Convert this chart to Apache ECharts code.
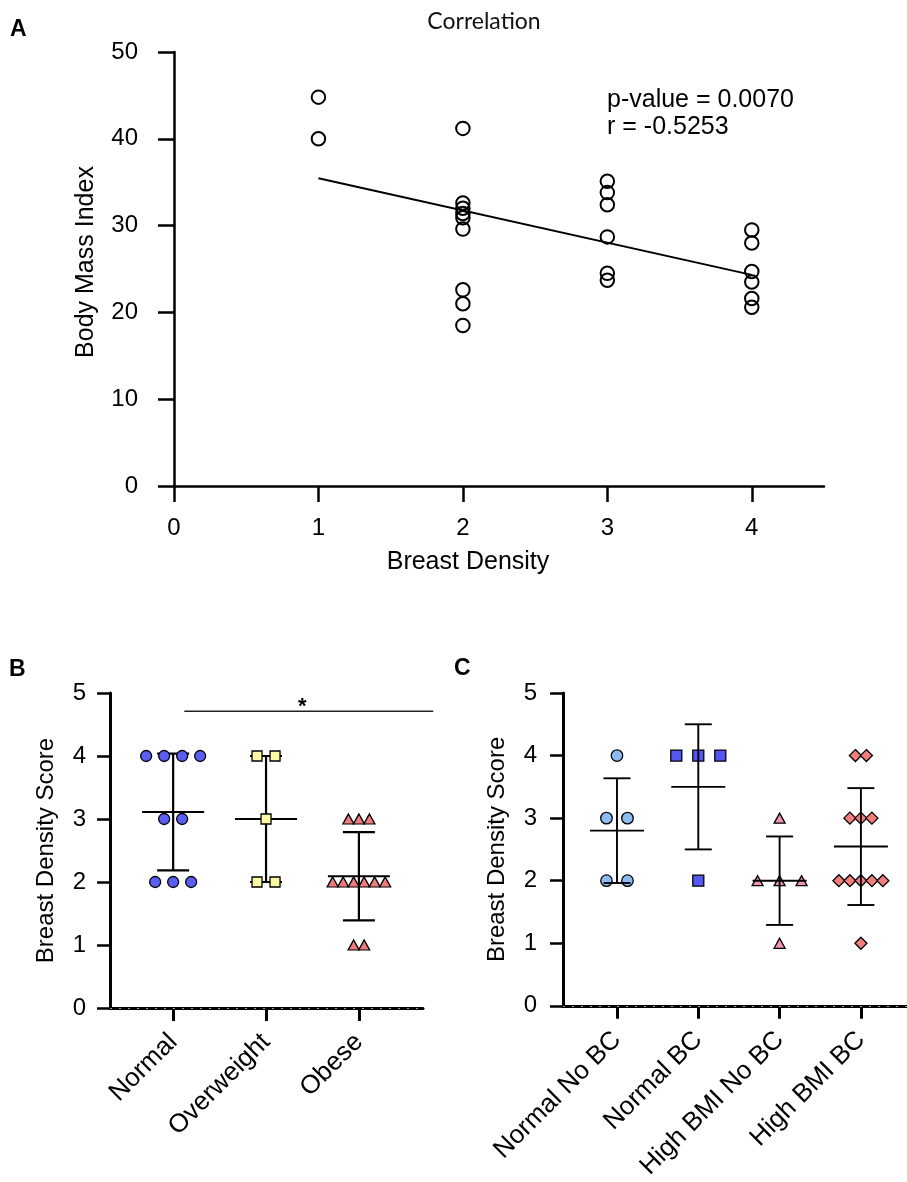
<!DOCTYPE html>
<html>
<head>
<meta charset="utf-8">
<script src="https://cdn.jsdelivr.net/npm/echarts@6/dist/echarts.min.js"></script>
<style>
html, body { margin: 0; padding: 0; background: #fff; }
#chart { width: 907px; height: 1182px; }
</style>
</head>
<body>
<div id="chart"></div>
<script>
// A: correlation BMI vs breast density
const densityA = [1, 1, 2, 2, 2, 2, 2, 2, 2, 2, 2, 3, 3, 3, 3, 3, 3, 4, 4, 4, 4, 4, 4];
const bmiA = [44.8, 40.0, 41.2, 32.6, 32.0, 31.4, 30.9, 29.6, 22.6, 21.0, 18.5,
  35.1, 33.8, 32.4, 28.7, 24.5, 23.7, 29.5, 28.0, 24.7, 23.5, 21.6, 20.6];
const statsA = ['p-value = 0.0070', 'r = -0.5253'];
const ticksA = [0, 1, 2, 3, 4];

// B: density score by BMI class
const groupsB = ['Normal', 'Overweight', 'Obese'];
const normalB = [4, 4, 4, 4, 3, 3, 2, 2, 2];
const overweightB = [4, 4, 3, 2, 2];
const obeseB = [3, 3, 3, 2, 2, 2, 2, 2, 2, 1, 1];
const sigB = [[1.12, 3.8, 4.71, 2.39]]; // from, to, height, star x

// C: density score by BMI and cancer status
const groupsC = ['Normal No BC', 'Normal BC', 'High BMI No BC', 'High BMI BC'];
const normalNoBC = [4, 3, 3, 2, 2];
const normalBC = [4, 4, 4, 2];
const highNoBC = [3, 2, 2, 2, 1];
const highBC = [4, 4, 3, 3, 3, 2, 2, 2, 2, 2, 1];

const font = 'Liberation Sans, Arial, sans-serif';

// grid geometry (px)
const gB = { left: 110, top: 693, width: 313, height: 315, min: 0.32, max: 3.69 };
const gC = { left: 563, top: 693, width: 344, height: 315, min: 0.336, max: 4.567 };
const unitB = gB.width / (gB.max - gB.min);
const unitC = gC.width / (gC.max - gC.min);

// linear fit for panel A
function fit(xs, ys) {
  const n = xs.length;
  const mx = xs.reduce((a, b) => a + b, 0) / n;
  const my = ys.reduce((a, b) => a + b, 0) / n;
  let sxy = 0, sxx = 0;
  for (let i = 0; i < n; i++) {
    sxy += (xs[i] - mx) * (ys[i] - my);
    sxx += (xs[i] - mx) * (xs[i] - mx);
  }
  const k = sxy / sxx;
  return x => my + k * (x - mx);
}
const line = fit(densityA, bmiA);
const xMin = Math.min.apply(null, densityA), xMax = Math.max.apply(null, densityA);

// spread equal values side by side around the group position
function spread(vals, g, stepPx, unitPx) {
  const counts = {}, seen = {};
  vals.forEach(v => counts[v] = (counts[v] || 0) + 1);
  return vals.map(v => {
    const k = seen[v] = (seen[v] || 0) + 1;
    return [g + (k - 1 - (counts[v] - 1) / 2) * stepPx / unitPx, v];
  });
}

function meanSd(vals) {
  const n = vals.length;
  const m = vals.reduce((a, b) => a + b, 0) / n;
  const ss = vals.reduce((a, v) => a + (v - m) * (v - m), 0);
  return [m, Math.sqrt(ss / (n - 1))];
}

function errBars(idx, groups, meanHalf, capHalf, z, lw) {
  return {
    type: 'custom', xAxisIndex: idx, yAxisIndex: idx, z: z, clip: false, silent: true,
    data: groups.map((vals, i) => [i + 1].concat(meanSd(vals))),
    renderItem: function (params, api) {
      const x = api.value(0), m = api.value(1), sd = api.value(2);
      const c = api.coord([x, m]), t = api.coord([x, m + sd]), b = api.coord([x, m - sd]);
      const st = { stroke: '#000', lineWidth: lw };
      return {
        type: 'group', children: [
          { type: 'line', shape: { x1: c[0], y1: t[1], x2: c[0], y2: b[1] }, style: st },
          { type: 'line', shape: { x1: c[0] - capHalf, y1: t[1], x2: c[0] + capHalf, y2: t[1] }, style: st },
          { type: 'line', shape: { x1: c[0] - capHalf, y1: b[1], x2: c[0] + capHalf, y2: b[1] }, style: st },
          { type: 'line', shape: { x1: c[0] - meanHalf, y1: c[1], x2: c[0] + meanHalf, y2: c[1] }, style: st }
        ]
      };
    }
  };
}

function dots(idx, data, symbol, size, color, z, extra) {
  const s = {
    type: 'scatter', xAxisIndex: idx, yAxisIndex: idx, z: z, silent: true,
    symbol: symbol, symbolSize: size, data: data,
    itemStyle: { color: color, borderColor: '#000', borderWidth: 1.3, opacity: 1 }
  };
  return Object.assign(s, extra || {});
}

const dotted = {
  silent: true, symbol: ['none', 'none'], label: { show: false },
  lineStyle: { color: '#9a9a9a', type: [2, 7], width: 1 },
  data: [{ yAxis: 0 }]
};

function catAxis(idx, g, names) {
  const vals = names.map((n, i) => i + 1);
  return {
    gridIndex: idx, type: 'value', min: g.min, max: g.max,
    axisLine: { show: true, onZero: false, lineStyle: { color: '#000', width: 3 } },
    axisTick: { show: true, customValues: vals, length: 13, lineStyle: { color: '#000', width: 3 } },
    axisLabel: {
      customValues: vals, formatter: v => names[Math.round(v) - 1] || '',
      rotate: 45, margin: 30, fontSize: 26, color: '#000', fontFamily: font
    },
    splitLine: { show: false }
  };
}

function scoreAxis(idx, gap, margin) {
  return {
    gridIndex: idx, type: 'value', min: 0, max: 5, interval: 1,
    name: 'Breast Density Score', nameLocation: 'middle', nameGap: gap,
    nameTextStyle: { fontSize: 24, color: '#000', fontFamily: font },
    axisLine: { show: true, lineStyle: { color: '#000', width: 3 } },
    axisTick: { show: true, length: 13, lineStyle: { color: '#000', width: 2.5 } },
    axisLabel: { margin: margin, fontSize: 24, color: '#000', fontFamily: font },
    splitLine: { show: false }
  };
}

const chart = echarts.init(document.getElementById('chart'), null, { renderer: 'canvas' });

const option = {
  backgroundColor: '#fff',
  animation: false,
  grid: [
    { left: 174, top: 52, width: 650, height: 434 },
    { left: gB.left, top: gB.top, width: gB.width, height: gB.height },
    { left: gC.left, top: gC.top, width: gC.width, height: gC.height }
  ],
  xAxis: [
    {
      gridIndex: 0, type: 'value', min: 0, max: 4.5,
      name: 'Breast Density', nameLocation: 'middle', nameGap: 64,
      nameTextStyle: { fontSize: 25, color: '#000', fontFamily: font, padding: [0, 62, 0, 0] },
      axisLine: { show: true, onZero: false, lineStyle: { color: '#000', width: 2.5 } },
      axisTick: { show: true, customValues: ticksA, length: 16, lineStyle: { color: '#000', width: 2.5 } },
      axisLabel: { customValues: ticksA, margin: 30, fontSize: 24, color: '#000', fontFamily: font },
      splitLine: { show: false }
    },
    catAxis(1, gB, groupsB),
    catAxis(2, gC, groupsC)
  ],
  yAxis: [
    {
      gridIndex: 0, type: 'value', min: 0, max: 50, interval: 10,
      name: 'Body Mass Index', nameLocation: 'middle', nameGap: 75,
      nameTextStyle: { fontSize: 25, color: '#000', fontFamily: font, padding: [0, 0, 0, 14] },
      axisLine: { show: true, lineStyle: { color: '#000', width: 2.5 } },
      axisTick: { show: true, length: 16, lineStyle: { color: '#000', width: 2.5 } },
      axisLabel: { margin: 36, fontSize: 24, color: '#000', fontFamily: font },
      splitLine: { show: false }
    },
    scoreAxis(1, 52, 24),
    scoreAxis(2, 54, 26)
  ],
  series: [
    {
      type: 'line', xAxisIndex: 0, yAxisIndex: 0, silent: true, symbol: 'none',
      data: [[xMin, line(xMin)], [xMax, line(xMax)]],
      lineStyle: { color: '#000', width: 2 }
    },
    {
      type: 'scatter', xAxisIndex: 0, yAxisIndex: 0, silent: true, symbol: 'circle', symbolSize: 13.5,
      data: densityA.map((d, i) => [d, bmiA[i]]),
      itemStyle: { color: 'rgba(255,255,255,0)', borderColor: '#000', borderWidth: 2, opacity: 1 }
    },

    errBars(1, [normalB, overweightB, obeseB], 31, 16, 2, 2.2),
    dots(1, spread(normalB, 1, 18, unitB), 'circle', 11, '#5b5ef2', 5, { markLine: dotted }),
    dots(1, spread(overweightB, 2, 18, unitB), 'rect', 10, '#fdf9a4', 5),
    dots(1, spread(obeseB, 3, 10.5, unitB), 'triangle', [11, 10], '#f07b7b', 5),
    {
      type: 'custom', xAxisIndex: 1, yAxisIndex: 1, clip: false, silent: true, z: 3,
      data: sigB,
      renderItem: function (params, api) {
        const a = api.coord([api.value(0), api.value(2)]);
        const b = api.coord([api.value(1), api.value(2)]);
        const s = api.coord([api.value(3), api.value(2)]);
        return {
          type: 'group', children: [
            { type: 'line', shape: { x1: a[0], y1: a[1], x2: b[0], y2: b[1] }, style: { stroke: '#222', lineWidth: 1.3 } },
            {
              type: 'text', x: s[0], y: a[1] - 4,
              style: { text: '*', fontSize: 22, fontFamily: font, fontWeight: 'bold', fill: '#000', align: 'center', verticalAlign: 'middle' }
            }
          ]
        };
      }
    },

    dots(2, spread(normalNoBC, 1, 21, unitC), 'circle', 11.5, '#8cbdf2', 3, { markLine: dotted }),
    dots(2, spread(normalBC, 2, 22, unitC), 'rect', 11, '#5557f2', 3),
    dots(2, spread(highNoBC, 3, 22, unitC), 'triangle', [11, 10], '#f093b4', 3),
    dots(2, spread(highBC, 4, 11, unitC), 'diamond', [12, 12], '#f47d7d', 3),
    errBars(2, [normalNoBC, normalBC, highNoBC, highBC], 27, 13.5, 6, 1.9)
  ],
  graphic: [
    { type: 'text', x: 10, y: 30, style: { text: 'A', fontSize: 23, fontWeight: 'bold', fontFamily: font, fill: '#000', verticalAlign: 'middle' } },
    { type: 'text', x: 9, y: 670, style: { text: 'B', fontSize: 23, fontWeight: 'bold', fontFamily: font, fill: '#000', verticalAlign: 'middle' } },
    { type: 'text', x: 454, y: 669, style: { text: 'C', fontSize: 23, fontWeight: 'bold', fontFamily: font, fill: '#000', verticalAlign: 'middle' } },
    { type: 'text', x: 484, y: 22, style: { text: 'Correlation', fontSize: 23, fontFamily: 'Lato, Open Sans, sans-serif', fill: '#111', align: 'center', verticalAlign: 'middle' } },
    { type: 'text', x: 607, y: 100, style: { text: statsA[0], fontSize: 25, fontFamily: font, fill: '#000', verticalAlign: 'middle' } },
    { type: 'text', x: 607, y: 127, style: { text: statsA[1], fontSize: 25, fontFamily: font, fill: '#000', verticalAlign: 'middle' } }
  ]
};

chart.setOption(option);
</script>
</body>
</html>
